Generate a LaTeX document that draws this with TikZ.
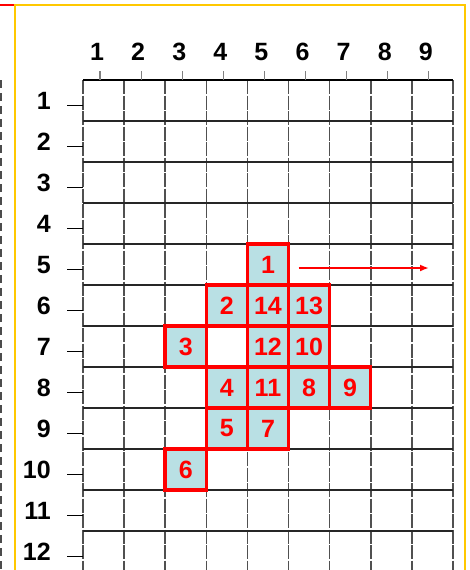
\documentclass[tikz,border=0pt]{standalone}
\usepackage{fontspec}
\setmainfont{Liberation Sans}
\usetikzlibrary{arrows.meta}
\definecolor{frameyellow}{RGB}{255,200,0}
\definecolor{cellblue}{RGB}{185,224,228}
\definecolor{gridgray}{RGB}{80,80,80}
\tikzset{
  lbl/.style={font=\fontsize{25}{25}\selectfont\bfseries, inner sep=0pt},
  num/.style={font=\fontsize{25}{25}\selectfont\bfseries, text=red},
  cellbox/.style={draw=red, line width=3.5pt, fill=cellblue, minimum width=41.1pt,
    minimum height=41pt, inner sep=0pt, outer sep=0pt, num},
  vline/.style={draw=gridgray, line width=1.6pt, dash pattern=on 14pt off 1.5pt},
  hline/.style={draw=black!85, line width=1.1pt},
  tick/.style={draw=gray, line width=1.2pt},
  rdash/.style={draw=black, line width=1pt},
  frame/.style={draw=frameyellow, line width=2.5pt},
  arr/.style={draw=red, line width=2pt, -{Latex[length=9pt,width=7pt]}},
}
\begin{document}
\begin{tikzpicture}[x=1pt,y=-1pt]
\useasboundingbox (0,0) rectangle (469,570);
% frame
\draw[frame] (15,570) -- (15,5) -- (465,5) -- (465,570);
\draw[draw=red, line width=2.5pt] (0,5) -- (14,5);
\draw[draw=black!70, line width=1.5pt, dash pattern=on 8pt off 5pt] (1,80) -- (1,570);
% grid
\foreach \i in {0,...,9} {
  \draw[vline] ({83+41.1*\i},80) -- ({83+41.1*\i},572);
}
\foreach \j in {1,...,12} {
  \draw[hline] (83,{80+41*\j}) -- (453,{80+41*\j});
}
\draw[draw=black, line width=1.6pt] (83,80) -- (453,80);
% column labels and ticks
\foreach \i in {1,...,9} {
  \node[lbl] (col\i) at ({97+41.1*(\i-1)},52) {\i};
  \draw[tick] ({100+41.1*(\i-1)},71) -- ({100+41.1*(\i-1)},80);
}
% row labels and dashes
\foreach \j in {1,...,12} {
  \node[lbl, anchor=east] (row\j) at (51,{101+41*(\j-1)}) {\j};
  \draw[rdash] (67,{105+41*(\j-1)}) -- (83,{105+41*(\j-1)});
}
% cells
\foreach \c/\r/\n in {5/5/1, 4/6/2, 5/6/14, 6/6/13, 3/7/3, 5/7/12, 6/7/10,
  4/8/4, 5/8/11, 6/8/8, 7/8/9, 4/9/5, 5/9/7, 3/10/6} {
  \node[cellbox] (c\n) at ({83+41.1*(\c-0.5)},{80+41*(\r-0.5)}) {\n};
}
% arrow
\coordinate (arrend) at (429,268);
\coordinate (arrstart) at ([xshift=10pt]c1.east);
\draw[arr] (arrstart |- arrend) -- (arrend);
\end{tikzpicture}
\end{document}
